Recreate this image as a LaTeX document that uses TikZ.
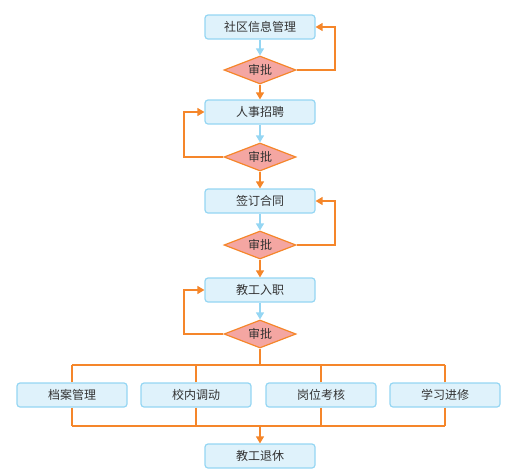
\documentclass[tikz,border=0pt]{standalone}
\usepackage{fontspec}
\setmainfont{Noto Sans CJK SC}
\usetikzlibrary{shapes.geometric,arrows.meta}
\definecolor{boxfill}{HTML}{DFF2FB}
\definecolor{boxline}{HTML}{95D6F3}
\definecolor{orng}{HTML}{F5862A}
\definecolor{dfill}{HTML}{F4A6A2}
\definecolor{txt}{HTML}{333333}
\tikzset{
  box/.style={draw=boxline, fill=boxfill, line width=1.2pt, rounded corners=3pt, minimum width=110pt, minimum height=24pt, inner sep=0pt, text=txt, font=\fontsize{12}{14}\selectfont},
  dia/.style={diamond, draw=orng, fill=dfill, line width=1.2pt, minimum width=72pt, minimum height=28pt, aspect=2.6, inner sep=0pt, text=txt, font=\fontsize{12}{14}\selectfont},
  oarr/.style={draw=orng, line width=1.3pt, -{Triangle[length=7pt,width=8pt]}},
  barr/.style={draw=boxline, line width=1.3pt, -{Triangle[length=7pt,width=8pt]}},
  oline/.style={draw=orng, line width=1.3pt},
}
\begin{document}
\begin{tikzpicture}[x=1pt,y=-1pt]
\useasboundingbox (0,0) rectangle (511,475);
\node[box] (b1) at (260,27) {社区信息管理};
\node[dia] (d1) at (260,70) {审批};
\node[box] (b2) at (260,112) {人事招聘};
\node[dia] (d2) at (260,157) {审批};
\node[box] (b3) at (260,201) {签订合同};
\node[dia] (d3) at (260,245) {审批};
\node[box] (b4) at (260,290) {教工入职};
\node[dia] (d4) at (260,334) {审批};
\node[box] (c1) at (72,395) {档案管理};
\node[box] (c2) at (196,395) {校内调动};
\node[box] (c3) at (321,395) {岗位考核};
\node[box] (c4) at (445,395) {学习进修};
\node[box] (b5) at (260,456) {教工退休};

\draw[barr] (b1) -- (d1);
\draw[oarr] (d1) -- (b2);
\draw[barr] (b2) -- (d2);
\draw[oarr] (d2) -- (b3);
\draw[barr] (b3) -- (d3);
\draw[oarr] (d3) -- (b4);
\draw[barr] (b4) -- (d4);

\draw[oarr] (d1.east) -| (335,27) -- (b1.east);
\draw[oarr] (d2.west) -| (184,112) -- (b2.west);
\draw[oarr] (d3.east) -| (335,201) -- (b3.east);
\draw[oarr] (d4.west) -| (184,290) -- (b4.west);

\coordinate (top) at (260,365);
\coordinate (bot) at (260,426);
\draw[oline] (d4.south) -- (top);
\draw[oline] (72,365) -- (445,365);
\draw[oline] (c1.north) -- (c1.north |- top);
\draw[oline] (c2.north) -- (c2.north |- top);
\draw[oline] (c3.north) -- (c3.north |- top);
\draw[oline] (c4.north) -- (c4.north |- top);
\draw[oline] (72,426) -- (445,426);
\draw[oline] (c1.south) -- (c1.south |- bot);
\draw[oline] (c2.south) -- (c2.south |- bot);
\draw[oline] (c3.south) -- (c3.south |- bot);
\draw[oline] (c4.south) -- (c4.south |- bot);
\draw[oarr] (bot) -- (b5);
\end{tikzpicture}
\end{document}
